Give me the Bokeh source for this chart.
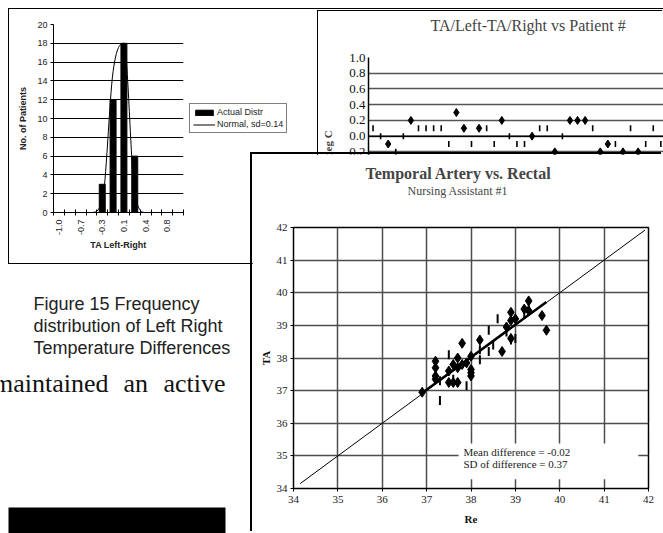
import math
from bokeh.plotting import figure
from bokeh.models import (Range1d, FixedTicker, Title, Legend, LegendItem, Span,
                          NumeralTickFormatter)
from bokeh.embed import file_html
from bokeh.resources import INLINE
from bokeh.core.properties import value

SERIF = "Liberation Serif"
SANS = "Liberation Sans"

# ---------------- Figure 15: frequency distribution ----------------
hist_bins = ["-1.0", "-0.8", "-0.7", "-0.5", "-0.3", "-0.1", "0.1", "0.2", "0.4", "0.6", "0.8", "0.9"]
hist_counts = [0, 0, 0, 0, 3, 12, 18, 6, 0, 0, 0, 0]
normal_fit = [0, 0, 0, 0, 1.2, 15, 18, 2, 0, 0, 0, 0]
hist_count_ticks = [0, 2, 4, 6, 8, 10, 12, 14, 16, 18, 20]

# ---------------- TA/Left-TA/Right vs Patient # ----------------
lr_diamond_patient = [3, 6, 12, 13, 15, 18, 22, 25, 27, 28, 29, 31, 32, 34, 36]
lr_diamond_diff = [-0.1, 0.2, 0.3, 0.1, 0.1, 0.2, 0.0, -0.2, 0.2, 0.2, 0.2, -0.2, -0.1, -0.2, -0.2]
lr_dash_patient = [1, 2, 4, 5, 7, 8, 9, 10, 11, 14, 16, 17, 19, 20, 21, 23, 24, 26, 30, 33, 35, 37, 38, 39]
lr_dash_diff = [0.1, 0.0, -0.2, 0.0, 0.1, 0.1, 0.1, 0.1, -0.1, -0.1, 0.1, -0.1, 0.0, -0.1, -0.1,
                0.1, 0.1, 0.0, 0.1, -0.1, 0.1, -0.1, 0.1, -0.1]
lr_ticks = [-1.2, -1.0, -0.8, -0.6, -0.4, -0.2, 0.0, 0.2, 0.4, 0.6, 0.8, 1.0]

# ---------------- Temporal Artery vs. Rectal ----------------
re_diamond = [36.9, 37.2, 37.2, 37.2, 37.2, 37.5, 37.5, 37.6, 37.6, 37.7, 37.7, 37.7, 37.8, 37.8,
              37.9, 38.0, 38.0, 38.0, 38.0, 38.2, 38.7, 38.8, 38.9, 38.9, 38.9, 39.0, 39.2, 39.3,
              39.3, 39.6, 39.7]
ta_diamond = [36.95, 37.9, 37.7, 37.45, 37.35, 37.6, 37.25, 37.8, 37.25, 38.0, 37.7, 37.25, 38.45,
              37.8, 37.85, 38.05, 37.65, 37.55, 37.45, 38.55, 38.2, 38.95, 39.4, 39.15, 38.6, 39.2,
              39.5, 39.75, 39.45, 39.3, 38.85]
re_dash = [37.3, 37.3, 37.5, 37.7, 37.9, 38.2, 38.2, 38.4, 38.4, 38.5, 38.6, 38.9, 39.0, 39.2, 39.3, 37.6, 38.8]
ta_dash = [37.3, 36.7, 38.1, 37.25, 37.15, 38.25, 37.95, 38.85, 38.2, 38.4, 39.2, 38.55, 38.6, 39.35,
           39.6, 37.35, 38.8]
identity_re = [34.15, 41.92]
identity_ta = [34.15, 41.92]
trend_re = [36.9, 39.7]
trend_ta = [36.93, 39.72]
temp_ticks = [34, 35, 36, 37, 38, 39, 40, 41, 42]
stats_lines = ["Mean difference = -0.02", "SD of difference = 0.37"]

# ---------------- page texts ----------------
caption_lines = ["Figure 15 Frequency", "distribution of Left Right", "Temperature Differences"]
body_words = ["maintained", "an", "active"]


def pos(left, top, extra=None):
    s = {"position": "absolute", "left": f"{left}px", "top": f"{top}px"}
    if extra:
        s.update(extra)
    return s


# ===== page (background texts) =====
page = figure(width=663, height=533, x_range=Range1d(0, 663), y_range=Range1d(533, 0),
              output_backend="svg", toolbar_location=None, min_border=0,
              x_axis_location=None, y_axis_location=None, outline_line_color=None,
              background_fill_color="white", border_fill_color="white",
              styles=pos(0, 0))
page.xgrid.visible = False
page.ygrid.visible = False
page.text(x=[33, 33, 33], y=[303, 325, 347], text=caption_lines,
          text_font=value(SANS), text_font_size="18px", text_color="#222222",
          text_baseline="middle", text_align="left")
page.text(x=[108, 123, 163], y=[383, 383, 383], text=body_words,
          text_align=["right", "left", "left"],
          text_font=value(SERIF), text_font_size="26px", text_color="#111111",
          text_baseline="middle")
page.quad(left=[8], right=[225], top=[507], bottom=[540], fill_color="black", line_color=None)

# ===== histogram =====
hist_x = list(range(len(hist_bins)))
hist = figure(frame_width=130, frame_height=188,
              x_range=Range1d(-0.5, len(hist_bins) - 0.5), y_range=Range1d(0, 20),
              output_backend="svg", toolbar_location=None,
              min_border_left=44, min_border_right=108, min_border_top=15, min_border_bottom=51,
              outline_line_color=None, background_fill_color="white", border_fill_color="white",
              styles=pos(9, 9, {"box-shadow": "0 0 0 1px #000"}))
bars = hist.vbar(x=hist_x, top=hist_counts, width=0.55, fill_color="black", line_color="black")

# smooth monotone (Fritsch-Carlson) Bezier segments through the fitted values
n = len(hist_x)
delta = [normal_fit[i + 1] - normal_fit[i] for i in range(n - 1)]
tang = [0.0] * n
for i in range(1, n - 1):
    if delta[i - 1] * delta[i] > 0:
        tang[i] = (delta[i - 1] + delta[i]) / 2
tang[0] = delta[0]
tang[-1] = delta[-1]
for i in range(n - 1):
    if delta[i] == 0:
        tang[i] = 0.0
        tang[i + 1] = 0.0
    else:
        al, be = tang[i] / delta[i], tang[i + 1] / delta[i]
        s = al * al + be * be
        if s > 9:
            t = 3 / math.sqrt(s)
            tang[i] = t * al * delta[i]
            tang[i + 1] = t * be * delta[i]
bx0, by0, bx1, by1, cx0, cy0, cx1, cy1 = [], [], [], [], [], [], [], []
for i in range(n - 1):
    bx0.append(hist_x[i]); by0.append(normal_fit[i])
    bx1.append(hist_x[i + 1]); by1.append(normal_fit[i + 1])
    cx0.append(hist_x[i] + 1 / 3); cy0.append(normal_fit[i] + tang[i] / 3)
    cx1.append(hist_x[i + 1] - 1 / 3); cy1.append(normal_fit[i + 1] - tang[i + 1] / 3)
hist.bezier(x0=bx0, y0=by0, x1=bx1, y1=by1, cx0=cx0, cy0=cy0, cx1=cx1, cy1=cy1,
            line_color="black", line_width=1)
# single-point line: draws nothing in the plot, only provides the legend swatch
peak = normal_fit.index(max(normal_fit))
legend_line = hist.line(x=[hist_x[peak]], y=[normal_fit[peak]], line_color="black", line_width=1)

hist.xaxis.ticker = FixedTicker(ticks=hist_x[::2], minor_ticks=[i - 0.5 for i in range(n + 1)])
hist.xaxis.major_label_overrides = {i: hist_bins[i] for i in hist_x[::2]}
hist.xaxis.major_label_orientation = math.pi / 2
hist.xaxis.major_tick_in = 0
hist.xaxis.major_tick_out = 0
hist.xaxis.minor_tick_in = 3
hist.xaxis.minor_tick_out = 3
hist.xaxis.minor_tick_line_color = "black"
hist.xaxis.major_label_standoff = 4
hist.xaxis.axis_label = "TA Left-Right"
hist.xaxis.axis_label_standoff = 2
hist.yaxis.ticker = FixedTicker(ticks=hist_count_ticks)
hist.yaxis.major_tick_in = 0
hist.yaxis.major_tick_out = 3
hist.yaxis.minor_tick_line_color = None
hist.yaxis.major_label_standoff = 3
hist.yaxis.axis_label = "No. of Patients"
hist.yaxis.axis_label_standoff = 6
for ax in (hist.xaxis[0], hist.yaxis[0]):
    ax.axis_line_color = "black"
    ax.major_tick_line_color = "black"
    ax.major_label_text_font = SANS
    ax.major_label_text_font_size = "9px"
    ax.major_label_text_color = "#222222"
    ax.axis_label_text_font = SANS
    ax.axis_label_text_font_size = "9px"
    ax.axis_label_text_font_style = "bold"
    ax.axis_label_text_color = "#222222"
hist.xgrid.visible = False
hist.ygrid.ticker = FixedTicker(ticks=hist_count_ticks[1:-1])
hist.ygrid.grid_line_color = "black"
hist.ygrid.grid_line_width = 1

legend = Legend(items=[LegendItem(label="Actual Distr", renderers=[bars]),
                       LegendItem(label="Normal, sd=0.14", renderers=[legend_line])],
                location="center_left", margin=6, padding=3, spacing=2,
                border_line_color="black", border_line_width=1,
                background_fill_color="white", background_fill_alpha=1,
                label_text_font=SANS, label_text_font_size="9px", label_text_color="#222222",
                glyph_width=22, glyph_height=7, label_height=10, label_standoff=2)
hist.add_layout(legend, "right")

# ===== TA/Left - TA/Right vs patient =====
lr = figure(width=345, height=240, x_range=Range1d(0.4, 39.35), y_range=Range1d(-1.2, 1.0),
            output_backend="svg", toolbar_location=None,
            min_border_left=49, min_border_right=0, min_border_top=46, min_border_bottom=21,
            outline_line_color=None, background_fill_color="white", border_fill_color="white",
            title="TA/Left-TA/Right vs Patient #",
            styles=pos(318, 11, {"box-shadow": "-1px -1px 0 0 #000"}))
lr.add_layout(Title(text=" ", text_font_size="11px", standoff=10), "above")
lr.title.text_font = SERIF
lr.title.text_font_size = "16px"
lr.title.text_font_style = "normal"
lr.title.align = "left"
lr.title.offset = 62
lr.title.standoff = 0
lr.xaxis.visible = False
lr.xgrid.visible = False
lr.yaxis.ticker = FixedTicker(ticks=lr_ticks)
lr.yaxis.formatter = NumeralTickFormatter(format="0.0")
lr.yaxis.major_tick_out = 0
lr.yaxis.major_tick_in = 0
lr.yaxis.minor_tick_line_color = None
lr.yaxis.major_label_standoff = 3
lr.yaxis.axis_line_color = "black"
lr.yaxis.axis_line_width = 1.5
lr.yaxis.major_label_text_font = SERIF
lr.yaxis.major_label_text_font_size = "13px"
lr.yaxis.major_label_text_color = "#111111"
lr.yaxis.axis_label = "deg C"
lr.yaxis.axis_label_text_font = SERIF
lr.yaxis.axis_label_text_font_size = "11px"
lr.yaxis.axis_label_text_font_style = "bold"
lr.yaxis.axis_label_standoff = 8
lr.ygrid.ticker = FixedTicker(ticks=lr_ticks)
lr.ygrid.grid_line_color = "#555555"
lr.ygrid.grid_line_width = 1.5
lr.add_layout(Span(location=0, dimension="width", line_color="black", line_width=1.5))
lr.scatter(x=lr_diamond_patient, y=lr_diamond_diff, marker="diamond", size=8,
           fill_color="black", line_color="black")
lr.scatter(x=lr_dash_patient, y=lr_dash_diff, marker="dash", angle=math.pi / 2, size=6,
           line_color="black", line_width=1.6)

# ===== Temporal Artery vs. Rectal =====
main = figure(width=411, height=379, x_range=Range1d(34, 42), y_range=Range1d(34, 42),
              output_backend="svg", toolbar_location=None,
              min_border_left=41, min_border_right=15, min_border_top=73, min_border_bottom=45,
              outline_line_color="black", outline_line_width=1.5,
              background_fill_color="white", border_fill_color="white",
              title="Temporal Artery vs. Rectal",
              styles=pos(252, 154, {"box-shadow": "-2px -2px 0 0 #000"}))
main.add_layout(Title(text=" ", text_font_size="11px", standoff=16), "above")
main.add_layout(Title(text="Nursing Assistant #1", text_font=SERIF, text_font_size="12px",
                      text_font_style="normal", align="left", offset=114, standoff=0), "above")
main.title.text_font = SERIF
main.title.text_font_size = "16px"
main.title.text_font_style = "bold"
main.title.align = "left"
main.title.offset = 72
main.title.standoff = 0
for ax in (main.xaxis[0], main.yaxis[0]):
    ax.ticker = FixedTicker(ticks=temp_ticks)
    ax.major_tick_in = 0
    ax.major_tick_out = 3
    ax.minor_tick_line_color = None
    ax.axis_line_color = "black"
    ax.major_tick_line_color = "black"
    ax.major_label_text_font = SERIF
    ax.major_label_text_font_size = "11px"
    ax.major_label_text_color = "#222222"
    ax.axis_label_text_font = SERIF
    ax.axis_label_text_font_size = "11px"
    ax.axis_label_text_font_style = "bold"
    ax.axis_label_text_color = "#111111"
main.xaxis.axis_label = "Re"
main.yaxis.axis_label = "TA"
main.xaxis.major_label_standoff = 4
main.yaxis.major_label_standoff = 3
main.xaxis.axis_label_standoff = 7
main.yaxis.axis_label_standoff = 2
for g in (main.xgrid[0], main.ygrid[0]):
    g.ticker = FixedTicker(ticks=temp_ticks)
    g.grid_line_color = "#4d4d4d"
    g.grid_line_width = 1.5

main.line(identity_re, identity_ta, line_color="black", line_width=1)
main.line(trend_re, trend_ta, line_color="black", line_width=2.5)
main.scatter(x=re_dash, y=ta_dash, marker="dash", angle=math.pi / 2, size=9,
             line_color="black", line_width=2)
main.scatter(x=re_diamond, y=ta_diamond, marker="diamond", size=10,
             fill_color="black", line_color="black")
# statistics text box
main.quad(left=[37.72], right=[41.77], bottom=[34.28], top=[35.38],
          fill_color="white", line_color=None)
main.text(x=[37.83, 37.83], y=[35.11, 34.76], text=stats_lines,
          text_font=value(SERIF), text_font_size="11px", text_color="#222222",
          text_baseline="middle", text_align="left")

open("out.html", "w").write(file_html([page, hist, lr, main], INLINE))
